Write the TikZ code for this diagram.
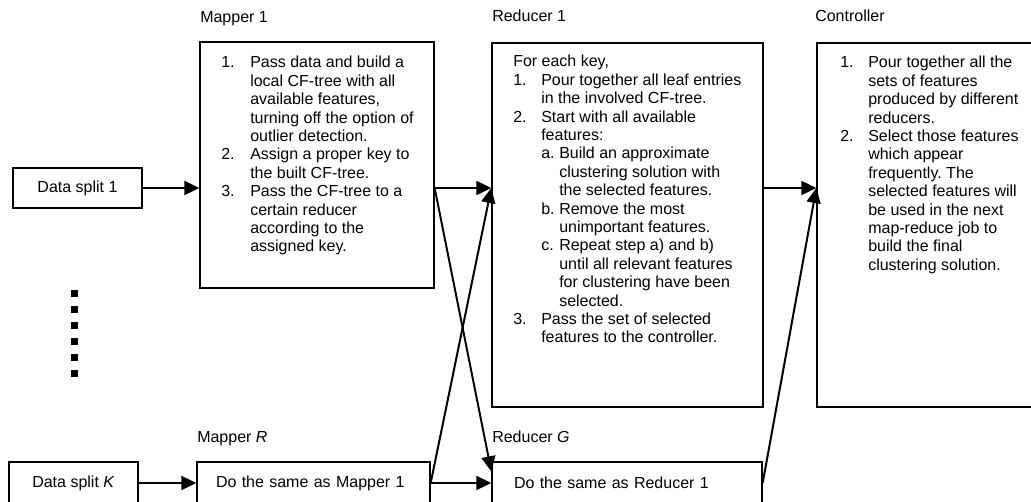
\documentclass[tikz,border=0pt]{standalone}
\usepackage{fontspec}
\setmainfont{Liberation Sans}
\usetikzlibrary{arrows.meta,calc,positioning}
\frenchspacing

\begin{document}
\begin{tikzpicture}[->, >={Triangle[length=11.25pt,width=10.5pt]}, x=0.75pt, y=-0.75pt,
  box/.style={draw, rectangle, line width=1pt, inner sep=0pt},
  boxtitle/.style={anchor=base west, inner sep=0pt},
  dot/.style={fill, rectangle, minimum size=5.25pt, inner sep=0pt}]
  \tikzstyle{every node}=[font=\fontsize{12}{13.8}\selectfont]

  \clip (0,0) rectangle (1031,502);

  % boxes
  \node[box, minimum width=96.75pt, minimum height=30pt] (d1) at (77.5,188) {Data split 1};
  \node[box, minimum width=175.5pt, minimum height=184.5pt] (m1) at (317,165) {};
  \node[box, minimum width=203.25pt, minimum height=273pt] (r1) at (627.5,225) {};
  \node[box, minimum width=189.75pt, minimum height=273pt] (ctl) at (943.5,225) {};
  \node[box, minimum width=96.75pt, minimum height=31.5pt] (dK) at (73.5,483) {Data split \textit{K}};
  \node[box, minimum width=174.75pt, minimum height=31.5pt, text width=146.25pt, inner xsep=14.25pt, align=left] (mR) at (313.5,483) {Do the same as Mapper 1};
  \node[box, minimum width=202.5pt, minimum height=31.5pt, text width=169.5pt, inner xsep=16.5pt, align=left] (rG) at (627,483) {Do the same as Reducer 1};

  % titles
  \node[boxtitle] (m1lbl) at (200,23) {Mapper 1};
  \node[boxtitle] (r1lbl) at (492,22) {Reducer 1};
  \node[boxtitle] (ctllbl) at (815,22) {Controller};
  \node[boxtitle] (mRlbl) at (197,442) {Mapper \textit{R}};
  \node[boxtitle] (rGlbl) at (492,442) {Reducer \textit{G}};

  % box texts
  \node[boxtitle] (m1txt) at (221,68) {\begin{tabular}[t]{@{}p{21.75pt}@{}l@{}}
    1. & Pass data and build a\\
       & local CF-tree with all\\
       & available features,\\
       & turning off the option of\\
       & outlier detection.\\
    2. & Assign a proper key to\\
       & the built CF-tree.\\
    3. & Pass the CF-tree to a\\
       & certain reducer\\
       & according to the\\
       & assigned key.
  \end{tabular}};
  \node[boxtitle] (r1txt) at (513,67) {\begin{tabular}[t]{@{}p{21pt}@{}p{13.5pt}@{}l@{}}
    \multicolumn{3}{@{}l@{}}{For each key,}\\
    1. & \multicolumn{2}{@{}l@{}}{Pour together all leaf entries}\\
       & \multicolumn{2}{@{}l@{}}{in the involved CF-tree.}\\
    2. & \multicolumn{2}{@{}l@{}}{Start with all available}\\
       & \multicolumn{2}{@{}l@{}}{features:}\\
       & a. & Build an approximate\\
       &    & clustering solution with\\
       &    & the selected features.\\
       & b. & Remove the most\\
       &    & unimportant features.\\
       & c. & Repeat step a) and b)\\
       &    & until all relevant features\\
       &    & for clustering have been\\
       &    & selected.\\
    3. & \multicolumn{2}{@{}l@{}}{Pass the set of selected}\\
       & \multicolumn{2}{@{}l@{}}{features to the controller.}
  \end{tabular}};
  \node[boxtitle] (ctltxt) at (840,68) {\begin{tabular}[t]{@{}p{21pt}@{}l@{}}
    1. & Pour together all the\\
       & sets of features\\
       & produced by different\\
       & reducers.\\
    2. & Select those features\\
       & which appear\\
       & frequently. The\\
       & selected features will\\
       & be used in the next\\
       & map-reduce job to\\
       & build the final\\
       & clustering solution.
  \end{tabular}};

  % vertical dots
  \foreach \i in {0,...,5}
    \node[dot] (dot\i) at (74,293+16*\i) {};

  \coordinate (rGin) at ($(rG.north west)+(0,10)$);

  \path[line width=1.5pt]
    (d1) edge (d1 -| m1.west)
    (m1.east |- d1) edge (r1.west |- d1)
                    edge (rGin)
    (r1.east |- d1) edge (ctl.west |- d1)
    (dK) edge (dK -| mR.west)
    (mR.east) edge (mR.east -| rG.west)
              edge (r1.west |- d1)
    (rG.east) edge (ctl.west |- d1);

\end{tikzpicture}
\end{document}
